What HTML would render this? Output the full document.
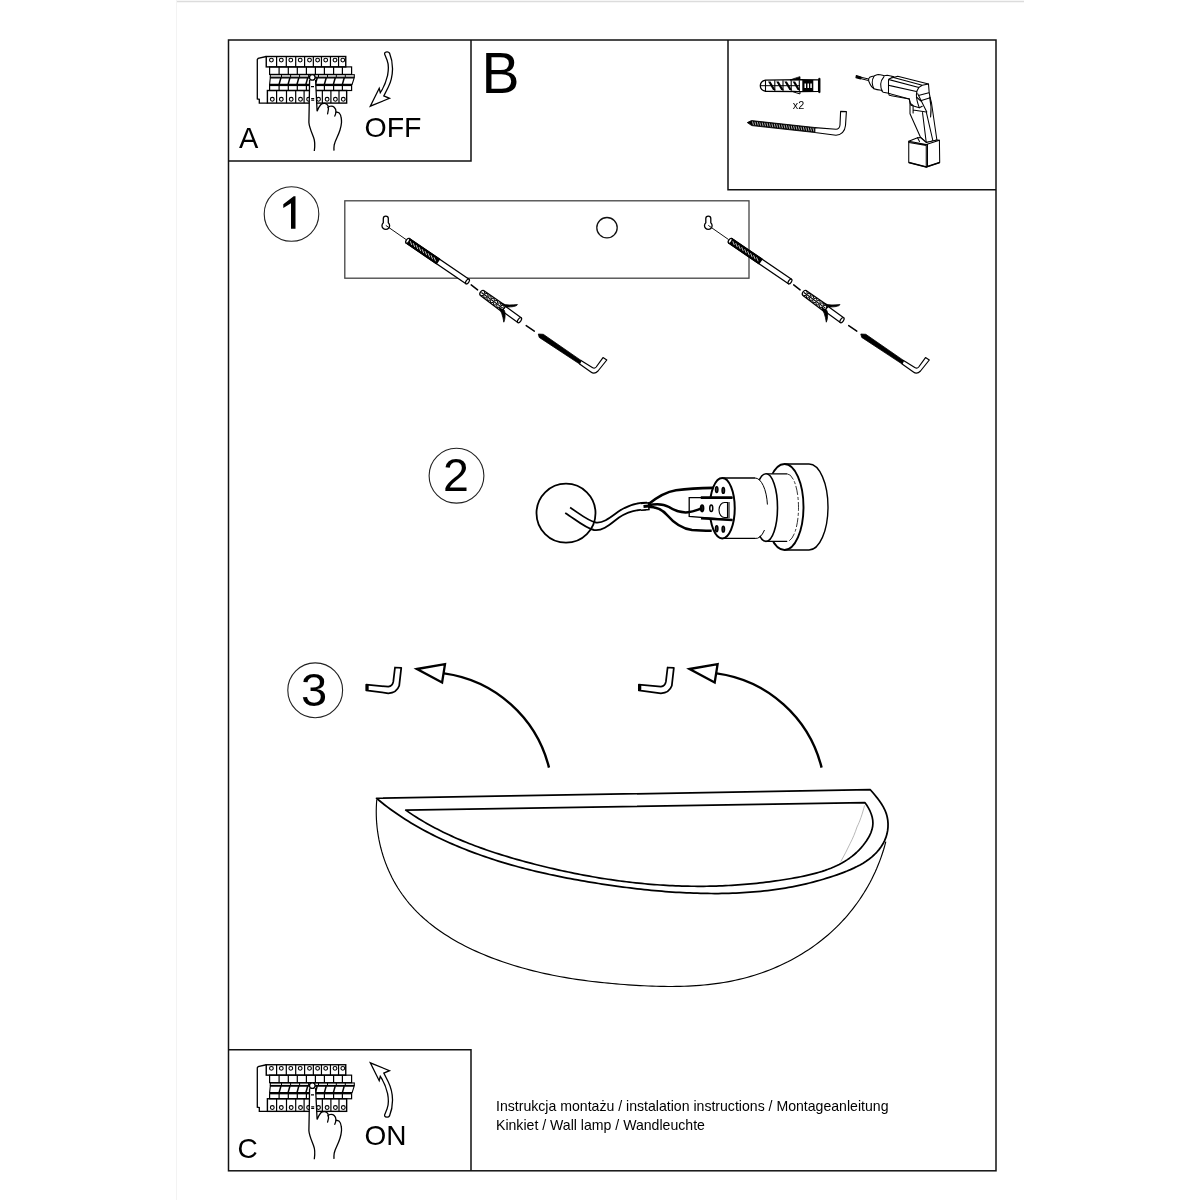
<!DOCTYPE html>
<html><head><meta charset="utf-8">
<style>
html,body{margin:0;padding:0;background:#fff;width:1200px;height:1200px;overflow:hidden}
svg{display:block;will-change:transform}
text{font-family:"Liberation Sans",sans-serif;fill:#000}
</style></head><body>
<svg width="1200" height="1200" viewBox="0 0 1200 1200">
<!-- page edges -->
<line x1="176" y1="1.5" x2="1024" y2="1.5" stroke="#dcdcdc" stroke-width="1.5"/>
<line x1="176.5" y1="0" x2="176.5" y2="1200" stroke="#f3f3f3" stroke-width="1"/>
<g fill="none" stroke="#111" stroke-width="1.5">
<rect x="228.5" y="40" width="767.5" height="1130.8"/>
<path d="M471,40 L471,161 L228.5,161"/>
<path d="M728,40 L728,189.7 L996,189.7"/>
<path d="M228.5,1049.7 L471,1049.7 L471,1170.8"/>
</g>
<rect x="344.8" y="200.8" width="404.2" height="77.4" fill="none" stroke="#444" stroke-width="1.3"/>
<g fill="none" stroke="#222" stroke-width="1.1">
<circle cx="291.5" cy="214" r="27.3"/>
<circle cx="456.5" cy="475.7" r="27.4"/>
<circle cx="315.2" cy="690.3" r="27.4"/>
<circle cx="607" cy="227.7" r="10.2" stroke="#111" stroke-width="1.3"/>
</g>
<text x="481.5" y="92.8" font-size="57">B</text>
<text x="239" y="147.9" font-size="29">A</text>
<text x="364.5" y="136.9" font-size="28.5">OFF</text>
<text x="237.5" y="1158.3" font-size="28">C</text>
<text x="364.6" y="1144.8" font-size="28">ON</text>
<path d="M293.7,196.2 L283.3,204.3 L283.3,207.9 L291,203.2 L291,228.7 L295.5,228.7 L295.5,196.2 Z" fill="#000"/>
<text x="443" y="491" font-size="46.5">2</text>
<text x="301" y="705.7" font-size="47">3</text>
<text x="496" y="1111" font-size="14.1" fill="#111">Instrukcja montażu / instalation instructions / Montageanleitung</text>
<text x="496" y="1130" font-size="14.1" fill="#111">Kinkiet / Wall lamp / Wandleuchte</text>

<g id="brk"><path d="M266.3,56.5 L258.2,58.3 L257.3,59.5 L257.3,99 L259.3,99.4 L259.3,103.1 L267.5,103.1" stroke-width="1.3" stroke="#000" fill="none"/>
<rect x="266.25" y="56.5" width="79.5" height="10.4" stroke-width="1.4" stroke="#000" fill="none"/>
<line x1="276.6" y1="56.5" x2="276.6" y2="66.9" stroke-width="1.2" stroke="#000"/>
<line x1="286.3" y1="56.5" x2="286.3" y2="66.9" stroke-width="1.2" stroke="#000"/>
<line x1="295.7" y1="56.5" x2="295.7" y2="66.9" stroke-width="1.2" stroke="#000"/>
<line x1="304.6" y1="56.5" x2="304.6" y2="66.9" stroke-width="1.2" stroke="#000"/>
<line x1="313.35" y1="56.5" x2="313.35" y2="66.9" stroke-width="1.2" stroke="#000"/>
<line x1="321.45" y1="56.5" x2="321.45" y2="66.9" stroke-width="1.2" stroke="#000"/>
<line x1="330.45" y1="56.5" x2="330.45" y2="66.9" stroke-width="1.2" stroke="#000"/>
<line x1="338.55" y1="56.5" x2="338.55" y2="66.9" stroke-width="1.2" stroke="#000"/>
<circle cx="271.4" cy="60.1" r="1.9" stroke-width="1.1" stroke="#000" fill="none"/>
<circle cx="281.3" cy="60.1" r="1.9" stroke-width="1.1" stroke="#000" fill="none"/>
<circle cx="290.8" cy="60.1" r="1.9" stroke-width="1.1" stroke="#000" fill="none"/>
<circle cx="300.2" cy="60.1" r="1.9" stroke-width="1.1" stroke="#000" fill="none"/>
<circle cx="309.5" cy="60.1" r="1.9" stroke-width="1.1" stroke="#000" fill="none"/>
<circle cx="317.6" cy="60.1" r="1.9" stroke-width="1.1" stroke="#000" fill="none"/>
<circle cx="325.7" cy="60.1" r="1.9" stroke-width="1.1" stroke="#000" fill="none"/>
<circle cx="335" cy="60.1" r="1.9" stroke-width="1.1" stroke="#000" fill="none"/>
<circle cx="342.8" cy="60.1" r="1.9" stroke-width="1.1" stroke="#000" fill="none"/>
<rect x="269.6" y="66.9" width="82" height="7.5" stroke-width="1.2" stroke="#000" fill="none"/>
<line x1="279.1" y1="66.9" x2="279.1" y2="74.4" stroke-width="1.2" stroke="#000"/>
<line x1="288.3" y1="66.9" x2="288.3" y2="74.4" stroke-width="1.2" stroke="#000"/>
<line x1="297.3" y1="66.9" x2="297.3" y2="74.4" stroke-width="1.2" stroke="#000"/>
<line x1="306.4" y1="66.9" x2="306.4" y2="74.4" stroke-width="1.2" stroke="#000"/>
<line x1="315.4" y1="66.9" x2="315.4" y2="74.4" stroke-width="1.2" stroke="#000"/>
<line x1="324.4" y1="66.9" x2="324.4" y2="74.4" stroke-width="1.2" stroke="#000"/>
<line x1="333.6" y1="66.9" x2="333.6" y2="74.4" stroke-width="1.2" stroke="#000"/>
<line x1="342.4" y1="66.9" x2="342.4" y2="74.4" stroke-width="1.2" stroke="#000"/>
<rect x="270.3" y="74.7" width="84" height="2.5" stroke-width="1.1" stroke="#000" fill="none"/>
<line x1="281.5" y1="74.7" x2="281.5" y2="77.2" stroke-width="1" stroke="#000"/>
<line x1="290.6" y1="74.7" x2="290.6" y2="77.2" stroke-width="1" stroke="#000"/>
<line x1="299.6" y1="74.7" x2="299.6" y2="77.2" stroke-width="1" stroke="#000"/>
<line x1="308.6" y1="74.7" x2="308.6" y2="77.2" stroke-width="1" stroke="#000"/>
<line x1="318.5" y1="74.7" x2="318.5" y2="77.2" stroke-width="1" stroke="#000"/>
<line x1="327.5" y1="74.7" x2="327.5" y2="77.2" stroke-width="1" stroke="#000"/>
<line x1="336.3" y1="74.7" x2="336.3" y2="77.2" stroke-width="1" stroke="#000"/>
<line x1="345.3" y1="74.7" x2="345.3" y2="77.2" stroke-width="1" stroke="#000"/>
<path d="M270.3,77.9 L354.2,77.9 L352.1,84.4 L269.6,84.4 Z" stroke-width="1.1" stroke="#000" fill="none"/>
<line x1="280.9" y1="77.9" x2="279.1" y2="84.4" stroke-width="1.55" stroke="#000"/>
<line x1="289.9" y1="77.9" x2="288.1" y2="84.4" stroke-width="1.55" stroke="#000"/>
<line x1="298.8" y1="77.9" x2="297" y2="84.4" stroke-width="1.55" stroke="#000"/>
<line x1="307.7" y1="77.9" x2="305.9" y2="84.4" stroke-width="1.55" stroke="#000"/>
<line x1="317.2" y1="77.9" x2="315.4" y2="84.4" stroke-width="1.55" stroke="#000"/>
<line x1="326.2" y1="77.9" x2="324.4" y2="84.4" stroke-width="1.55" stroke="#000"/>
<line x1="335.2" y1="77.9" x2="333.4" y2="84.4" stroke-width="1.55" stroke="#000"/>
<line x1="344.2" y1="77.9" x2="342.4" y2="84.4" stroke-width="1.55" stroke="#000"/>
<rect x="269.6" y="84.2" width="82" height="1.4" fill="#000"/>
<rect x="269.6" y="85.5" width="82" height="5" stroke-width="1.2" stroke="#000" fill="none"/>
<line x1="279.1" y1="85.5" x2="279.1" y2="90.5" stroke-width="1.2" stroke="#000"/>
<line x1="288.3" y1="85.5" x2="288.3" y2="90.5" stroke-width="1.2" stroke="#000"/>
<line x1="297.3" y1="85.5" x2="297.3" y2="90.5" stroke-width="1.2" stroke="#000"/>
<line x1="306.4" y1="85.5" x2="306.4" y2="90.5" stroke-width="1.2" stroke="#000"/>
<line x1="315.4" y1="85.5" x2="315.4" y2="90.5" stroke-width="1.2" stroke="#000"/>
<line x1="324.4" y1="85.5" x2="324.4" y2="90.5" stroke-width="1.2" stroke="#000"/>
<line x1="333.6" y1="85.5" x2="333.6" y2="90.5" stroke-width="1.2" stroke="#000"/>
<line x1="342.4" y1="85.5" x2="342.4" y2="90.5" stroke-width="1.2" stroke="#000"/>
<rect x="267.4" y="90.5" width="79.25" height="12.6" stroke-width="1.4" stroke="#000" fill="none"/>
<line x1="276.6" y1="90.5" x2="276.6" y2="103.1" stroke-width="1.2" stroke="#000"/>
<line x1="286.5" y1="90.5" x2="286.5" y2="103.1" stroke-width="1.2" stroke="#000"/>
<line x1="295.7" y1="90.5" x2="295.7" y2="103.1" stroke-width="1.2" stroke="#000"/>
<line x1="304.1" y1="90.5" x2="304.1" y2="103.1" stroke-width="1.2" stroke="#000"/>
<line x1="313.3" y1="90.5" x2="313.3" y2="103.1" stroke-width="1.2" stroke="#000"/>
<line x1="322.35" y1="90.5" x2="322.35" y2="103.1" stroke-width="1.2" stroke="#000"/>
<line x1="330.9" y1="90.5" x2="330.9" y2="103.1" stroke-width="1.2" stroke="#000"/>
<line x1="339" y1="90.5" x2="339" y2="103.1" stroke-width="1.2" stroke="#000"/>
<circle cx="272.3" cy="99.3" r="1.9" stroke-width="1.1" stroke="#000" fill="none"/>
<circle cx="281.3" cy="99.3" r="1.9" stroke-width="1.1" stroke="#000" fill="none"/>
<circle cx="291.2" cy="99.3" r="1.9" stroke-width="1.1" stroke="#000" fill="none"/>
<circle cx="300.5" cy="99.3" r="1.9" stroke-width="1.1" stroke="#000" fill="none"/>
<circle cx="308.6" cy="99.3" r="1.9" stroke-width="1.1" stroke="#000" fill="none"/>
<circle cx="318.5" cy="99.3" r="1.9" stroke-width="1.1" stroke="#000" fill="none"/>
<circle cx="327.1" cy="99.3" r="1.9" stroke-width="1.1" stroke="#000" fill="none"/>
<circle cx="335.4" cy="99.3" r="1.9" stroke-width="1.1" stroke="#000" fill="none"/>
<circle cx="343.3" cy="99.3" r="1.9" stroke-width="1.1" stroke="#000" fill="none"/>
<path d="M309.6,79.5 L309.2,106 L308.9,122.5 L317.1,111.3 L315.6,80.5 Z" fill="#fff"/>
<path d="M309.6,80 L309.2,106 L308.9,122.5 C309.2,127 311.5,132 313.6,137.5 C315,141 315,146 314.3,151" stroke="#000" stroke-width="1.3" fill="none"/>
<path d="M315.6,80.5 L317.1,111.3 C318.2,108.5 319.5,106 320.9,104.5 C322,103.5 323.5,103.2 325,103.4 C326.5,103.7 327.5,104.5 328,105.8 C328.8,108 328.6,111 327.6,113.9" stroke="#000" stroke-width="1.3" fill="none" stroke-linecap="round"/>
<path d="M328,107.5 C328.8,106.6 329.6,106.2 330.6,106.2 C332,106.1 333.3,106.4 334.2,107.3 C335.4,108.5 336,109.8 335.9,111.2 C335.9,113 335.5,114.6 334.8,116.1" stroke="#000" stroke-width="1.3" fill="none" stroke-linecap="round"/>
<path d="M335.9,112 C337.2,112.1 338.4,112.4 339.3,113.1 C340.5,114.3 341,116 341.2,118 C341.5,119.5 341.6,121 341.5,122.5 C341.3,125 340.8,127.5 340,130 C339.2,132.5 338.2,135 337,137.5 C335.8,140 334.8,142.5 334.2,145 C333.9,147 333.9,149 334,150.6" stroke="#000" stroke-width="1.3" fill="none"/>
<circle cx="312.3" cy="77.4" r="2.8" fill="#fff" stroke="#000" stroke-width="1.3"/>
<path d="M311,86.6 L314,86.6 M311.2,98.6 L314.2,98.6 M311.2,100.2 L314.2,100.2" stroke="#000" stroke-width="1.1"/></g>
<use href="#brk" transform="translate(0,1008.25)"/>
<path id="arr" d="M384.65,53.1 C385.3,51.6 388.6,51.3 389.5,53.1 C391.5,58 392.6,64 392.5,69.4 C392.4,76 390.8,82 388.2,87.25 L383.8,95.9 L389.5,98.35 L370.3,106.2 L379.2,88.3 L380.3,92.7 C382.5,89.5 386,82 387.6,75.3 C388.4,71 388.6,64 387.1,60.2 L384.65,54.2 Z" fill="none" stroke="#000" stroke-width="1.3" stroke-linejoin="miter"/>
<use href="#arr" transform="translate(0,1169) scale(1,-1)"/>
<g id="scr"><path d="M383.3,222.8 L383.3,218.6 A2.5,2.5 0 0 1 388.3,218.6 L388.3,222.8 A3.8,3.8 0 1 1 383.3,222.8 Z" fill="none" stroke="#000" stroke-width="1.3"/>
<line x1="385.8" y1="225.4" x2="406" y2="239.5" stroke="#111" stroke-width="1"/>
<path d="M406.15,243.07 L465.95,283.77 L469.05,279.23 L409.25,238.53 Z" fill="#fff" stroke="#000" stroke-width="1.3" stroke-linejoin="round"/>
<path d="M406.15,243.07 L436.41,263.67 L439.5,259.12 L409.25,238.53 Z" fill="#000" stroke="#000" stroke-width="1.3" stroke-linejoin="round"/>
<line x1="410.19" y1="241.05" x2="411.82" y2="245.06" stroke="#fff" stroke-width="0.75"/>
<line x1="413.17" y1="243.07" x2="414.8" y2="247.08" stroke="#fff" stroke-width="0.75"/>
<line x1="416.15" y1="245.1" x2="417.77" y2="249.11" stroke="#fff" stroke-width="0.75"/>
<line x1="419.12" y1="247.12" x2="420.75" y2="251.13" stroke="#fff" stroke-width="0.75"/>
<line x1="422.1" y1="249.15" x2="423.72" y2="253.16" stroke="#fff" stroke-width="0.75"/>
<line x1="425.07" y1="251.17" x2="426.7" y2="255.18" stroke="#fff" stroke-width="0.75"/>
<line x1="428.05" y1="253.2" x2="429.68" y2="257.21" stroke="#fff" stroke-width="0.75"/>
<line x1="431.03" y1="255.22" x2="432.65" y2="259.23" stroke="#fff" stroke-width="0.75"/>
<line x1="434" y1="257.25" x2="435.63" y2="261.26" stroke="#fff" stroke-width="0.75"/>
<ellipse cx="407.7" cy="240.8" rx="1.5" ry="2.75" transform="rotate(34.24 407.7 240.8)" fill="#fff" stroke="#000" stroke-width="1.3"/>
<ellipse cx="467.5" cy="281.5" rx="1.4" ry="2.75" transform="rotate(34.24 467.5 281.5)" fill="#fff" stroke="#000" stroke-width="1.2"/>
<path d="M471.2,284.9 L477.6,289.9 M526.2,325.6 L534.3,331.1" stroke="#000" stroke-width="1.5" stroke-linecap="round" fill="none"/>
<path d="M501.94,311.02 L517.8,322.55 L521.2,317.85 L505.35,306.33 Z" fill="#fff" stroke="#000" stroke-width="1.2" stroke-linejoin="round"/>
<ellipse cx="519.5" cy="320.2" rx="1.5" ry="2.9" transform="rotate(36.01 519.5 320.2)" fill="#fff" stroke="#000" stroke-width="1.2"/>
<path d="M483.97,290.67 L505.76,305.76 L501.52,311.59 L480.44,295.52 C478.49,293.61 481.55,289.4 483.97,290.67 Z" fill="#fff" stroke="#000" stroke-width="1.3" stroke-linejoin="round"/>
<path d="M481.4,292.51 L502.83,308.09" stroke="#000" stroke-width="1.1"/>
<path d="M484.31,291.04 L484.76,293.84 L487.55,293.39 L487.99,296.19 L490.79,295.75 L491.23,298.54 L494.02,298.1 L494.46,300.89 L497.26,300.45 L497.7,303.24 L500.49,302.8 L500.93,305.59 L503.73,305.15 L504.17,307.95" fill="none" stroke="#000" stroke-width="1.0" stroke-linejoin="miter"/>
<path d="M480.9,295.73 L483.7,295.29 L484.14,298.09 L486.93,297.64 L487.38,300.44 L490.17,300 L490.61,302.79 L493.4,302.35 L493.85,305.14 L496.64,304.7 L497.08,307.49 L499.88,307.05 L500.32,309.84 L503.11,309.4" fill="none" stroke="#000" stroke-width="1.0" stroke-linejoin="miter"/>
<path d="M501,303.5 C507,305.5 512,305 517.5,304.6 C516.5,306.5 512,307 506.5,307 Z" fill="#000" stroke="#000" stroke-width="0.8"/>
<path d="M499,307.5 C501,311 503,316 503.8,322.2 C505.3,319 505.5,314 504.5,310.5 Z" fill="#000" stroke="#000" stroke-width="0.8"/>
<path d="M538.3,334 L543.3,334.3 L581,360.4 L579.6,364 L539.2,337.4 Z" fill="#000" stroke="#000" stroke-width="0.8" stroke-linejoin="round"/>
<path d="M581,360.4 L592.3,367.5 Q594.6,369 596.2,367 L603,357.6 L606.8,360 L598,371 Q594.4,374.8 590.9,372 L579.6,364 Z" fill="#fff" stroke="#000" stroke-width="1.2" stroke-linejoin="round"/></g>
<use href="#scr" transform="translate(322.5,0)"/>
<circle cx="566" cy="513.2" r="29.5" fill="none" stroke="#000" stroke-width="1.8"/>
<path d="M570.1,507.5 C580,514 588,521 596,522.5 C604,523.5 612,516 620,510.5 C630,504 638,502.5 647,502.6" fill="none" stroke="#000" stroke-width="1.8"/>
<path d="M565.2,512.9 C575,519 585,528 594,530 C603,531.5 611,523.5 619,517.5 C629,511 637,509.5 645.9,509.7" fill="none" stroke="#000" stroke-width="1.8"/>
<path d="M784.5,464 L809,464 A19,43 0 0 1 809,550 L784.5,550 A19,43 0 0 1 784.5,464 Z" fill="#fff" stroke="none"/>
<path d="M784.5,464 L809,464 M784.5,550 L809,550" stroke="#000" stroke-width="1.4"/>
<path d="M809,464 A19,43 0 0 1 809,550" fill="none" stroke="#000" stroke-width="1.4"/>
<ellipse cx="784.5" cy="507" rx="19" ry="43" fill="#fff" stroke="#000" stroke-width="1.9"/>
<path d="M766,473.8 L787,473.8 A11.5,33.8 0 0 1 787,541.4 L766,541.4 A11.5,33.8 0 0 1 766,473.8 Z" fill="#fff" stroke="none"/>
<path d="M766,473.8 L787,473.8 M766,541.4 L787,541.4" stroke="#000" stroke-width="1.3"/>
<path d="M787,473.8 A11.5,33.8 0 0 1 787,541.4" fill="none" stroke="#000" stroke-width="0.8" stroke-dasharray="9 2 3 2"/>
<ellipse cx="766" cy="507.6" rx="11.5" ry="33.8" fill="#fff" stroke="#000" stroke-width="1.6"/>
<path d="M722.25,478 L755,478 A12.5,30.2 0 0 1 755,538.4 L722.25,538.4 A12.5,30.2 0 0 1 722.25,478 Z" fill="#fff" stroke="none"/>
<path d="M722.25,478 L755,478 M722.25,538.4 L755,538.4" stroke="#000" stroke-width="1.4"/>
<path d="M755,478 A12.5,30.2 0 0 1 767.41,504.56" fill="none" stroke="#000" stroke-width="1.0"/>
<ellipse cx="722.25" cy="508.2" rx="12.5" ry="30.2" fill="#fff" stroke="#000" stroke-width="2.0"/>
<path d="M764.5,530 A12.5,30.2 0 0 1 755,538.4" fill="none" stroke="#000" stroke-width="1"/>
<ellipse cx="716.7" cy="489.6" rx="1.2" ry="2.9" fill="#444" stroke="#000" stroke-width="1.5"/>
<ellipse cx="723.3" cy="490.4" rx="1.2" ry="2.9" fill="#444" stroke="#000" stroke-width="1.5"/>
<ellipse cx="716.7" cy="528.75" rx="1.2" ry="2.9" fill="#444" stroke="#000" stroke-width="1.5"/>
<ellipse cx="723.3" cy="529.2" rx="1.2" ry="2.9" fill="#444" stroke="#000" stroke-width="1.5"/>
<path d="M732.5,497.6 L689.2,497.6 L689.2,516.3 L732.5,520" fill="#fff" stroke="#000" stroke-width="1.3"/>
<path d="M700.8,497.6 L732.5,497.6 M701,518.2 L732.5,520" stroke="#000" stroke-width="2.6"/>
<path d="M727.5,502.5 L724.5,502.5 A5.5,7.5 0 0 0 724.5,517.5 L727.5,517.5 Z M729,502 L729,518" fill="#fff" stroke="#000" stroke-width="1.1"/>
<ellipse cx="702.1" cy="508.3" rx="1.4" ry="3.2" fill="#333" stroke="#000" stroke-width="1.8"/>
<ellipse cx="711.25" cy="508.3" rx="1.5" ry="3.3" fill="#fff" stroke="#000" stroke-width="1.5"/>
<path d="M648,504.5 C656,498 665,492 676,490.3 C690,488.3 702,488 713.3,487.9" fill="none" stroke="#000" stroke-width="2.6"/>
<path d="M648,505.3 C656,503.5 663,503.5 669,507 C675,511 680,513 688,512.3 C694,511.8 698,509.5 702.1,508.3" fill="none" stroke="#000" stroke-width="2.5"/>
<path d="M648,506.8 C656,507 662,509 667,515 C673,522 680,528.5 692,530 C700,530.8 706,530.8 711.7,530.8" fill="none" stroke="#000" stroke-width="2.6"/>
<path d="M640.5,503.6 L648.5,502.8 L649,509.6 L641,510.2" fill="#fff" stroke="#000" stroke-width="1.5"/>
<path d="M643.5,506.5 L649,506" stroke="#000" stroke-width="3"/>
<g id="hk"><path d="M366.25,684.6 L388.3,686.7 Q392.5,686.25 393.3,681.7 L395,667.5 L401.25,667.9 L399.2,685.8 Q396.7,692.9 388.3,693.3 L366.25,690.4 Z M367.8,684.8 L367.8,690.6" fill="#fff" stroke="#000" stroke-width="1.75" stroke-linejoin="round"/>
<path d="M444,673.4 A125.9,125.9 0 0 1 549,767.6" fill="none" stroke="#000" stroke-width="2.4"/>
<path d="M417,669 L445,664.2 L442.1,682.5 Z" fill="#fff" stroke="#000" stroke-width="2.3" stroke-linejoin="miter"/></g>
<use href="#hk" transform="translate(272.6,0)"/>
<path d="M376.80,799.50 L376.50,803.52 L376.31,807.55 L376.24,811.58 L376.29,815.62 L376.45,819.65 L376.73,823.68 L377.12,827.70 L377.63,831.70 L378.24,835.69 L378.96,839.66 L379.79,843.60 L380.73,847.52 L381.77,851.41 L382.92,855.26 L384.17,859.07 L385.52,862.84 L386.98,866.57 L388.53,870.24 L390.18,873.86 L391.93,877.43 L393.78,880.93 L395.72,884.37 L397.75,887.75 L399.88,891.05 L402.10,894.27 L404.41,897.43 L406.80,900.50 L409.28,903.51 L411.84,906.44 L414.48,909.30 L417.20,912.09 L419.99,914.82 L422.85,917.47 L425.78,920.06 L428.77,922.58 L431.83,925.03 L434.96,927.42 L438.14,929.75 L441.37,932.01 L444.66,934.21 L448.01,936.35 L451.40,938.43 L454.83,940.45 L458.31,942.41 L461.83,944.32 L465.39,946.17 L468.99,947.96 L472.62,949.70 L476.28,951.38 L479.97,953.01 L483.68,954.59 L487.42,956.12 L491.18,957.60 L494.96,959.03 L498.75,960.41 L502.56,961.75 L506.38,963.04 L510.20,964.28 L514.04,965.48 L517.88,966.63 L521.74,967.75 L525.60,968.82 L529.47,969.85 L533.34,970.83 L537.23,971.78 L541.12,972.70 L545.02,973.57 L548.93,974.41 L552.84,975.21 L556.76,975.98 L560.68,976.71 L564.61,977.41 L568.55,978.08 L572.49,978.71 L576.44,979.32 L580.40,979.89 L584.35,980.44 L588.32,980.96 L592.29,981.45 L596.26,981.92 L600.23,982.36 L604.21,982.78 L608.20,983.17 L612.18,983.54 L616.17,983.89 L620.16,984.22 L624.16,984.53 L628.16,984.81 L632.16,985.09 L636.16,985.34 L640.16,985.57 L644.16,985.78 L648.17,985.96 L652.17,986.12 L656.17,986.26 L660.17,986.36 L664.17,986.43 L668.17,986.47 L672.17,986.47 L676.16,986.44 L680.15,986.36 L684.13,986.25 L688.11,986.09 L692.08,985.89 L696.04,985.65 L700.00,985.36 L703.96,985.01 L707.90,984.62 L711.84,984.17 L715.77,983.67 L719.69,983.11 L723.60,982.49 L727.50,981.82 L731.39,981.08 L735.27,980.27 L739.13,979.40 L742.99,978.46 L746.83,977.46 L750.66,976.38 L754.47,975.23 L758.27,974.01 L762.04,972.72 L765.80,971.36 L769.53,969.93 L773.24,968.43 L776.92,966.86 L780.57,965.23 L784.20,963.52 L787.79,961.75 L791.34,959.90 L794.86,957.99 L798.34,956.02 L801.78,953.97 L805.18,951.86 L808.54,949.69 L811.85,947.44 L815.11,945.13 L818.32,942.76 L821.49,940.32 L824.59,937.81 L827.65,935.24 L830.64,932.61 L833.58,929.91 L836.46,927.15 L839.27,924.33 L842.03,921.45 L844.72,918.51 L847.34,915.51 L849.91,912.46 L852.40,909.35 L854.83,906.19 L857.19,902.98 L859.48,899.72 L861.70,896.40 L863.85,893.04 L865.92,889.64 L867.92,886.18 L869.85,882.69 L871.70,879.15 L873.47,875.57 L875.17,871.95 L876.79,868.29 L878.32,864.59 L879.78,860.86 L881.15,857.09 L882.44,853.29 L883.65,849.46 L884.77,845.59 L885.80,841.70" fill="none" stroke="#000" stroke-width="1.15"/>
<path d="M376.50,798.25 L379.22,800.52 L381.98,802.76 L384.76,804.95 L387.58,807.10 L390.42,809.21 L393.29,811.28 L396.19,813.31 L399.11,815.31 L402.06,817.26 L405.04,819.18 L408.03,821.06 L411.05,822.91 L414.09,824.72 L417.15,826.50 L420.24,828.24 L423.34,829.94 L426.46,831.62 L429.59,833.26 L432.75,834.87 L435.92,836.44 L439.10,837.99 L442.30,839.50 L445.51,840.99 L448.74,842.44 L451.97,843.87 L455.22,845.27 L458.48,846.64 L461.75,847.98 L465.03,849.30 L468.31,850.59 L471.61,851.85 L474.92,853.09 L478.24,854.30 L481.57,855.48 L484.90,856.65 L488.25,857.78 L491.60,858.89 L494.97,859.98 L498.34,861.05 L501.71,862.09 L505.10,863.11 L508.49,864.11 L511.89,865.08 L515.30,866.03 L518.71,866.97 L522.13,867.88 L525.56,868.77 L528.99,869.64 L532.43,870.50 L535.87,871.33 L539.32,872.14 L542.78,872.94 L546.24,873.72 L549.70,874.48 L553.17,875.22 L556.64,875.95 L560.11,876.66 L563.59,877.35 L567.08,878.03 L570.56,878.70 L574.05,879.35 L577.55,879.98 L581.04,880.60 L584.54,881.21 L588.04,881.80 L591.54,882.38 L595.04,882.95 L598.54,883.50 L602.05,884.04 L605.55,884.58 L609.06,885.10 L612.57,885.60 L616.08,886.10 L619.59,886.58 L623.10,887.05 L626.61,887.50 L630.12,887.94 L633.64,888.37 L637.15,888.78 L640.67,889.18 L644.19,889.56 L647.71,889.92 L651.23,890.27 L654.75,890.61 L658.27,890.93 L661.79,891.23 L665.31,891.51 L668.84,891.78 L672.36,892.03 L675.89,892.26 L679.42,892.47 L682.95,892.66 L686.48,892.84 L690.01,892.99 L693.54,893.13 L697.07,893.24 L700.61,893.34 L704.14,893.42 L707.68,893.47 L711.21,893.50 L714.75,893.51 L718.29,893.50 L721.82,893.46 L725.36,893.40 L728.90,893.32 L732.43,893.20 L735.96,893.07 L739.50,892.90 L743.03,892.71 L746.56,892.49 L750.08,892.24 L753.61,891.96 L757.13,891.65 L760.65,891.31 L764.17,890.94 L767.68,890.54 L771.19,890.11 L774.70,889.64 L778.20,889.14 L781.70,888.60 L785.20,888.03 L788.69,887.42 L792.17,886.78 L795.65,886.10 L799.13,885.38 L802.60,884.62 L806.06,883.83 L809.52,882.99 L812.97,882.12 L816.42,881.20 L819.86,880.25 L823.29,879.25 L826.72,878.21 L830.14,877.12 L833.55,875.99 L836.95,874.82 L840.35,873.60 L843.73,872.33 L847.09,871.01 L850.41,869.61 L853.69,868.14 L856.91,866.57 L860.05,864.91 L863.11,863.14 L866.07,861.25 L868.92,859.23 L871.65,857.06 L874.24,854.75 L876.69,852.28 L878.98,849.63 L881.09,846.80 L882.98,843.81 L884.60,840.68 L885.92,837.42 L886.93,834.06 L887.62,830.63 L887.99,827.16 L888.04,823.67 L887.76,820.18 L887.15,816.73 L886.19,813.34 L884.89,810.04 L883.28,806.84 L881.40,803.74 L879.33,800.73 L877.13,797.83 L874.84,795.02 L872.55,792.31 L870.30,789.70 L376.5,798.25 Z" fill="#fff" stroke="#000" stroke-width="1.75" stroke-linejoin="round"/>
<path d="M405.70,810.10 L408.27,811.88 L410.85,813.62 L413.46,815.34 L416.08,817.02 L418.72,818.66 L421.39,820.28 L424.06,821.87 L426.76,823.42 L429.47,824.95 L432.20,826.44 L434.95,827.91 L437.71,829.35 L440.49,830.76 L443.28,832.14 L446.08,833.50 L448.90,834.83 L451.74,836.13 L454.58,837.41 L457.44,838.67 L460.31,839.90 L463.19,841.10 L466.09,842.28 L468.99,843.44 L471.91,844.58 L474.83,845.70 L477.76,846.79 L480.71,847.87 L483.66,848.92 L486.62,849.95 L489.59,850.97 L492.56,851.96 L495.54,852.94 L498.53,853.90 L501.53,854.84 L504.53,855.77 L507.53,856.68 L510.54,857.57 L513.55,858.45 L516.57,859.31 L519.59,860.16 L522.62,861.00 L525.64,861.82 L528.67,862.63 L531.70,863.43 L534.74,864.22 L537.77,864.99 L540.80,865.75 L543.84,866.50 L546.88,867.24 L549.92,867.96 L552.96,868.67 L556.00,869.37 L559.04,870.06 L562.09,870.74 L565.13,871.40 L568.18,872.04 L571.23,872.68 L574.28,873.30 L577.33,873.91 L580.38,874.51 L583.44,875.09 L586.49,875.66 L589.55,876.21 L592.61,876.75 L595.67,877.28 L598.73,877.79 L601.80,878.29 L604.86,878.78 L607.93,879.25 L610.99,879.70 L614.06,880.14 L617.13,880.57 L620.20,880.98 L623.27,881.38 L626.35,881.77 L629.42,882.14 L632.50,882.49 L635.58,882.83 L638.66,883.15 L641.74,883.46 L644.82,883.75 L647.91,884.03 L650.99,884.29 L654.08,884.54 L657.17,884.77 L660.26,884.98 L663.35,885.18 L666.44,885.36 L669.53,885.53 L672.63,885.68 L675.72,885.82 L678.82,885.93 L681.92,886.04 L685.02,886.12 L688.12,886.19 L691.22,886.24 L694.33,886.27 L697.44,886.29 L700.54,886.29 L703.65,886.28 L706.76,886.24 L709.87,886.19 L712.98,886.12 L716.10,886.04 L719.21,885.93 L722.33,885.81 L725.45,885.67 L728.57,885.51 L731.69,885.34 L734.81,885.15 L737.94,884.94 L741.06,884.71 L744.19,884.46 L747.31,884.19 L750.44,883.91 L753.57,883.60 L756.71,883.28 L759.84,882.94 L762.97,882.58 L766.11,882.20 L769.25,881.80 L772.38,881.38 L775.52,880.95 L778.66,880.49 L781.81,880.02 L784.95,879.52 L788.10,879.01 L791.24,878.47 L794.39,877.92 L797.53,877.33 L800.67,876.72 L803.79,876.08 L806.90,875.40 L810.00,874.68 L813.07,873.92 L816.12,873.10 L819.14,872.24 L822.13,871.32 L825.08,870.34 L828.00,869.29 L830.87,868.18 L833.70,867.00 L836.48,865.74 L839.21,864.40 L841.88,862.98 L844.49,861.47 L847.03,859.87 L849.52,858.18 L851.93,856.38 L854.26,854.49 L856.52,852.49 L858.70,850.38 L860.80,848.15 L862.81,845.81 L864.72,843.34 L866.54,840.75 L868.24,838.04 L869.77,835.23 L871.05,832.32 L872.05,829.34 L872.69,826.30 L872.93,823.22 L872.74,820.11 L872.16,817.02 L871.23,813.96 L870.00,810.96 L868.52,808.07 L866.84,805.30 L865.00,802.70 L405.7,810.1 Z" fill="#fff" stroke="#000" stroke-width="1.7" stroke-linejoin="round"/>
<path d="M864.6,805.4 C862,815 860,821 857,827 C855,833 853,838 850,843.75 C847,850 844,856 840.75,861.6" fill="none" stroke="#9a9a9a" stroke-width="0.7"/>
<path d="M765.5,80.2 L800,79.6 L818.6,79.8 L818.6,91.4 L800,91.6 L765.5,91.25 C762,90.5 760.3,88 760.3,85.7 C760.3,83.4 762,81 765.5,80.2 Z" fill="#fff" stroke="#000" stroke-width="1.3"/>
<path d="M818.8,78.3 L820,78.3 L820,92.6 L818.8,92.6 Z" fill="#000" stroke="#000" stroke-width="0.9"/>
<path d="M761,85.7 L800,85.7" stroke="#000" stroke-width="1"/>
<line x1="765.5" y1="80.2" x2="765.5" y2="91.3" stroke="#000" stroke-width="1.1"/>
<line x1="774.8" y1="80.2" x2="774.8" y2="91.3" stroke="#000" stroke-width="1.1"/>
<line x1="783" y1="80.2" x2="783" y2="91.3" stroke="#000" stroke-width="1.1"/>
<line x1="791.2" y1="80.2" x2="791.2" y2="91.3" stroke="#000" stroke-width="1.1"/>
<line x1="799.3" y1="80.2" x2="799.3" y2="91.3" stroke="#000" stroke-width="1.1"/>
<path d="M768,81.5 L770.5,81.5 L775.5,90 L773,90 Z" fill="#000"/>
<path d="M776.2,81.5 L778.7,81.5 L783.7,90 L781.2,90 Z" fill="#000"/>
<path d="M784.4,81.5 L786.9,81.5 L791.9,90 L789.4,90 Z" fill="#000"/>
<path d="M792.6,81.5 L795.1,81.5 L800.1,90 L797.6,90 Z" fill="#000"/>
<path d="M802.3,80 L813.3,80 L813.3,91.3 L802.3,91.3 Z" fill="#000"/>
<rect x="804.5" y="83.5" width="1.5" height="4.5" fill="#fff"/>
<rect x="807.5" y="83.5" width="1.5" height="4.5" fill="#fff"/>
<rect x="810.3" y="83.5" width="1.5" height="4.5" fill="#fff"/>
<path d="M790,80 C794,78.5 797,77.5 800,76.7 L800,79.6 Z" fill="#000" stroke="#000" stroke-width="0.8"/>
<path d="M792,91.3 C795,92.5 797.5,93.3 800,93.9 L800,91.6 Z" fill="none" stroke="#000" stroke-width="1"/>
<text x="792.8" y="108.8" font-size="10.8">x2</text>
<path d="M747.3,122.6 L751.5,120.6 L814.8,127.5 L814.8,132.5 L751.8,125.6 Z" fill="#000" stroke="#000" stroke-width="0.9" stroke-linejoin="round"/>
<line x1="752.5" y1="121.51" x2="753.4" y2="124.91" stroke="#fff" stroke-width="0.7"/>
<line x1="754.92" y1="121.77" x2="755.82" y2="125.17" stroke="#fff" stroke-width="0.7"/>
<line x1="757.34" y1="122.04" x2="758.24" y2="125.44" stroke="#fff" stroke-width="0.7"/>
<line x1="759.76" y1="122.3" x2="760.66" y2="125.7" stroke="#fff" stroke-width="0.7"/>
<line x1="762.18" y1="122.56" x2="763.08" y2="125.96" stroke="#fff" stroke-width="0.7"/>
<line x1="764.6" y1="122.83" x2="765.5" y2="126.23" stroke="#fff" stroke-width="0.7"/>
<line x1="767.02" y1="123.09" x2="767.92" y2="126.49" stroke="#fff" stroke-width="0.7"/>
<line x1="769.44" y1="123.36" x2="770.34" y2="126.76" stroke="#fff" stroke-width="0.7"/>
<line x1="771.86" y1="123.62" x2="772.76" y2="127.02" stroke="#fff" stroke-width="0.7"/>
<line x1="774.28" y1="123.88" x2="775.18" y2="127.28" stroke="#fff" stroke-width="0.7"/>
<line x1="776.7" y1="124.15" x2="777.6" y2="127.55" stroke="#fff" stroke-width="0.7"/>
<line x1="779.12" y1="124.41" x2="780.02" y2="127.81" stroke="#fff" stroke-width="0.7"/>
<line x1="781.54" y1="124.67" x2="782.44" y2="128.07" stroke="#fff" stroke-width="0.7"/>
<line x1="783.96" y1="124.94" x2="784.86" y2="128.34" stroke="#fff" stroke-width="0.7"/>
<line x1="786.38" y1="125.2" x2="787.28" y2="128.6" stroke="#fff" stroke-width="0.7"/>
<line x1="788.8" y1="125.47" x2="789.7" y2="128.87" stroke="#fff" stroke-width="0.7"/>
<line x1="791.22" y1="125.73" x2="792.12" y2="129.13" stroke="#fff" stroke-width="0.7"/>
<line x1="793.64" y1="125.99" x2="794.54" y2="129.39" stroke="#fff" stroke-width="0.7"/>
<line x1="796.06" y1="126.26" x2="796.96" y2="129.66" stroke="#fff" stroke-width="0.7"/>
<line x1="798.48" y1="126.52" x2="799.38" y2="129.92" stroke="#fff" stroke-width="0.7"/>
<line x1="800.9" y1="126.78" x2="801.8" y2="130.18" stroke="#fff" stroke-width="0.7"/>
<line x1="803.32" y1="127.05" x2="804.22" y2="130.45" stroke="#fff" stroke-width="0.7"/>
<line x1="805.74" y1="127.31" x2="806.64" y2="130.71" stroke="#fff" stroke-width="0.7"/>
<line x1="808.16" y1="127.58" x2="809.06" y2="130.98" stroke="#fff" stroke-width="0.7"/>
<line x1="810.58" y1="127.84" x2="811.48" y2="131.24" stroke="#fff" stroke-width="0.7"/>
<line x1="813" y1="128.1" x2="813.9" y2="131.5" stroke="#fff" stroke-width="0.7"/>
<path d="M814.8,127.6 L836,129.3 Q839.5,129.3 840,125 L840.6,111.4 L846.4,111.6 L845.5,125.5 Q844.5,134.3 836,135.3 L814.8,132.5 Z" fill="#fff" stroke="#000" stroke-width="1.1" stroke-linejoin="round"/>
<path d="M860.7,77.2 L868.7,79 L868.7,80.6 L860.7,78.6 Z" fill="#fff" stroke="#000" stroke-width="1"/>
<path d="M856.3,75.6 L861,77 L860.6,78.9 L856,77.6 Z" fill="#000" stroke="#000" stroke-width="1.1" stroke-linejoin="round"/>
<path d="M868.7,78.7 L869.7,77.3 C871,76.6 872.5,76.2 874,76 C875.5,75.4 877,74.6 878.3,74.5 C880.5,74.6 882.3,75.3 884,75.7 L887.3,75.3 L894,76.7 L888.7,79.3 L888.7,93.3 L883.3,92.3 L881.3,90.3 C879,90 876,89.5 874,88.7 C872,87.5 870.6,85.5 870,84 L868.7,81 Z" fill="#fff" stroke="#000" stroke-width="1.05" stroke-linejoin="round" stroke-linecap="round"/>
<path d="M874,76.2 C872.6,78.5 872.1,80.5 872.2,82.7 C872.4,85 873,87 874,88.7" fill="none" stroke="#000" stroke-width="1.05" stroke-linejoin="round" stroke-linecap="round"/>
<path d="M884,76.6 C882,79 880.8,81.5 880.7,84 C880.6,86.5 881,88.7 882.2,90.8" fill="none" stroke="#000" stroke-width="1.05" stroke-linejoin="round" stroke-linecap="round"/>
<path d="M888.5,80.3 C889,79 890.5,78 893.5,77.4 L897.7,76.2 L928.5,84.1 L929.2,92.8 L930.2,97.8 L931.5,103 L936.9,140 L926.3,142.5 L920.6,137.5 L910,113.75 L910,103.1 L909.3,99.1 L889.3,95.3 L888.5,93.25 Z" fill="#fff" stroke="#000" stroke-width="1.05" stroke-linejoin="round" stroke-linecap="round"/>
<path d="M889.3,79.7 L918.9,87.4 M888.5,85.3 L916.4,91.6 M888.5,93.25 L909.3,99.1 M893.5,77.4 L922.25,85.3 L928.5,84.1 M918.9,87.4 L922.25,85.3" fill="none" stroke="#000" stroke-width="1.05" stroke-linejoin="round" stroke-linecap="round"/>
<path d="M918.9,87.4 C917.2,89.5 916.4,92 916.4,95 C916.4,99 917.5,103 919.3,107.8" fill="none" stroke="#000" stroke-width="1.05" stroke-linejoin="round" stroke-linecap="round"/>
<path d="M919.3,95.3 L928.9,92.8 M920.6,100.75 L930.2,97.8 M917.7,93.7 L926.8,112" fill="none" stroke="#000" stroke-width="1.05" stroke-linejoin="round" stroke-linecap="round"/>
<path d="M909.3,99.1 L911,105.3 L919.3,107.8 L922.25,106.2 M916.4,97 L920.6,100.75" fill="none" stroke="#000" stroke-width="1.05" stroke-linejoin="round" stroke-linecap="round"/>
<path d="M929.6,97 C931,103 931.5,110 930.6,117" fill="none" stroke="#000" stroke-width="1.05" stroke-linejoin="round" stroke-linecap="round"/>
<path d="M913.1,110 L926.25,111.9 M922.5,112.5 L926.25,142.5 M926.25,111.9 L933,141.25 M910,103.1 L913.1,105.5 L913.1,113" fill="none" stroke="#000" stroke-width="1.05" stroke-linejoin="round" stroke-linecap="round"/>
<path d="M908.75,141.25 L917.5,137.8 L920.6,137.5 L926.3,142.5 L936.9,140 L939.4,140.2 L939.7,162.5 L926.25,166.9 L908.75,162.5 Z" fill="#fff" stroke="#000" stroke-width="1.05" stroke-linejoin="round" stroke-linecap="round"/>
<path d="M908.75,141.25 L926.25,144.4 L939.4,140.2 M926.25,144.4 L926.25,166.9 M927.5,144.2 L927.5,166.6 M908.9,142.5 L926.25,145.6 M917.5,137.8 L919.5,141.5" fill="none" stroke="#000" stroke-width="1.05" stroke-linejoin="round" stroke-linecap="round"/>
<path d="M908.75,162.5 L926.25,166.9 L939.7,162.5" fill="none" stroke="#000" stroke-width="1.5"/>
</svg>
</body></html>
